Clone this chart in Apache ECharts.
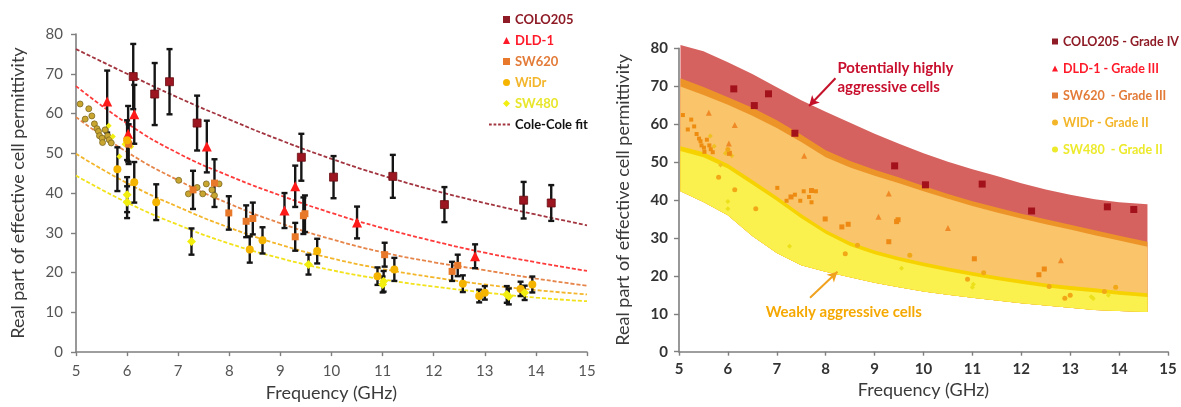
<!DOCTYPE html>
<html><head><meta charset="utf-8">
<script src="https://cdn.jsdelivr.net/npm/echarts@6/dist/echarts.min.js"></script>
<style>html,body{margin:0;padding:0;background:#fff}#c{width:1181px;height:407px}</style>
</head><body><div id="c"></div>
<script>
// ---------- measured points (frequency GHz, permittivity, error half-width) ----------
const coloX = [6.12, 6.54, 6.83, 7.37, 9.41, 10.04, 11.2, 12.21, 13.76, 14.3];
const coloY = [69.3, 64.9, 68.0, 57.6, 49.0, 44.0, 44.2, 37.1, 38.2, 37.5];
const coloErr = [8.2, 7.8, 8.2, 6.9, 5.9, 5.3, 5.4, 4.4, 4.6, 4.5];

const dldX = [5.61, 6.02, 6.14, 7.56, 9.08, 9.29, 10.5, 12.81];
const dldY = [63.0, 54.9, 59.8, 51.7, 35.6, 41.7, 32.6, 24.1];
const dldErr = [7.8, 7.0, 7.4, 6.5, 4.4, 5.2, 4.0, 3.0];

const sw620X = [6.03, 7.29, 7.71, 7.99, 8.33, 8.46, 9.29, 9.45, 9.48, 11.04, 12.36, 12.47];
const sw620Y = [52.3, 40.8, 42.5, 35.0, 32.9, 33.6, 29.0, 34.3, 34.8, 24.5, 20.3, 21.8];
const sw620Err = [5.0, 4.8, 6.0, 4.2, 4.0, 4.0, 3.5, 4.6, 4.6, 3.0, 2.4, 2.7];

const widrX = [5.81, 6.0, 6.14, 6.57, 8.40, 8.65, 9.72, 10.90, 11.23, 12.57, 12.89, 13.0, 13.70, 13.93];
const widrY = [46.0, 53.3, 42.7, 37.7, 25.8, 28.1, 25.4, 19.1, 20.8, 17.2, 14.1, 14.9, 15.9, 17.0];
const widrErr = [5.5, 5.0, 5.1, 4.5, 3.3, 3.3, 3.1, 2.2, 2.9, 2.1, 1.6, 1.7, 1.8, 2.0];

const sw480X = [6.0, 6.0, 7.26, 9.55, 11.02, 11.0, 13.43, 13.47, 13.78];
const sw480Y = [39.6, 37.7, 27.8, 22.0, 17.8, 17.0, 14.5, 14.0, 14.9];
const sw480Err = [4.4, 4.0, 3.3, 2.5, 2.6, 2.0, 2.1, 2.0, 1.8];

// raw points without error bars
const rawX = [5.08, 5.25, 5.18, 5.31, 5.36, 5.41, 5.44, 5.46, 5.51, 5.52, 5.57, 5.62, 5.65, 5.69,
              7.01, 7.20, 7.37, 7.48, 7.55, 7.66, 7.71, 7.80];
const rawY = [62.4, 61.2, 58.6, 59.4, 57.4, 56.2, 55.5, 54.4, 53.8, 52.7, 55.9, 54.4, 53.4, 52.6,
              43.2, 39.8, 41.4, 39.8, 42.3, 40.8, 39.4, 42.3];
const rawYelX = [5.64, 5.72, 5.85, 5.95, 6.08];
const rawYelY = [56.9, 54.2, 49.2, 52.3, 51.7];

// Cole-Cole fit curves (read at each GHz)
const fitX = [5, 6, 7, 8, 9, 10, 11, 12, 13, 14, 15];
const fitColo = [76.2, 70.0, 64.0, 58.5, 53.3, 48.6, 44.4, 40.7, 37.5, 34.6, 31.9];
const fitDld = [66.9, 57.5, 50.0, 44.3, 39.4, 35.0, 31.2, 27.9, 25.0, 22.6, 20.4];
const fitSw620 = [59.1, 50.3, 43.2, 37.3, 32.4, 28.4, 25.1, 22.6, 20.6, 18.5, 16.7];
const fitWidr = [49.9, 42.5, 36.5, 31.3, 27.0, 23.6, 20.9, 18.8, 17.0, 15.6, 14.5];
const fitSw480 = [44.4, 37.6, 32.0, 27.3, 23.6, 20.6, 18.3, 16.5, 15.0, 13.7, 12.8];

// Right panel bands (boundaries)
const bandX = [5.03, 5.5, 6, 6.5, 7, 7.5, 8, 8.5, 9, 9.5, 10, 10.5, 11, 11.5, 12, 12.5, 13, 13.5, 14, 14.58];
const redTop = [80.9, 79.2, 76.3, 73.2, 69.7, 66.3, 63.3, 60.4, 57.5, 54.8, 52.3, 50.1, 48.1, 46.3, 44.4, 42.8, 41.4, 40.2, 39.4, 38.9];
const redBottom = [72.1, 69.8, 67.1, 64.3, 61.0, 57.2, 53.1, 50.3, 48.0, 45.9, 43.7, 41.6, 39.7, 38.0, 36.4, 34.9, 33.5, 32.0, 30.6, 29.0];
const orangeTop = [69.9, 67.7, 65.1, 62.2, 59.0, 55.3, 51.3, 48.6, 46.4, 44.4, 42.3, 40.3, 38.4, 36.7, 35.1, 33.6, 32.2, 30.7, 29.3, 27.7];
const orangeBottom = [54.2, 52.6, 49.5, 45.3, 40.9, 36.3, 32.1, 28.9, 26.7, 25.0, 23.5, 22.2, 21.0, 19.9, 18.9, 18.0, 17.3, 16.7, 16.0, 15.4];
const yellowTop = [52.9, 51.3, 48.3, 44.1, 39.8, 35.2, 31.1, 27.9, 25.7, 24.0, 22.5, 21.2, 20.0, 18.9, 17.9, 17.0, 16.3, 15.7, 15.0, 14.4];
const yellowBottom = [42.3, 39.5, 36.0, 30.5, 26.0, 22.8, 21.1, 19.6, 18.2, 17.0, 15.9, 15.0, 14.2, 13.5, 12.8, 12.2, 11.6, 11.0, 10.7, 10.5];

// ---------- helpers ----------
const zip = (xs, ys) => xs.map((x, i) => [x, ys[i]]);
const errData = (xs, ys, es) => xs.map((x, i) => [x, ys[i] - es[i], ys[i] + es[i]]);

const FONT = 'Lato, "Open Sans", sans-serif';
const allErr = [].concat(
  errData(coloX, coloY, coloErr), errData(dldX, dldY, dldErr), errData(sw620X, sw620Y, sw620Err),
  errData(widrX, widrY, widrErr), errData(sw480X, sw480Y, sw480Err));

const SQUARE = 'path://M0,0h10v10h-10z';
const DASH = 'path://M0,0h3v2h-3z M5,0h3v2h-3z M10,0h3v2h-3z M15,0h3v2h-3z M20,0h3v2h-3z';

function renderErr(params, api) {
  const x = api.value(0), lo = api.value(1), hi = api.value(2);
  const p1 = api.coord([x, hi]), p2 = api.coord([x, lo]);
  const w = 3;
  const style = { stroke: '#151515', lineWidth: 2.4 };
  return { type: 'group', children: [
    { type: 'line', shape: { x1: p1[0], y1: p1[1], x2: p2[0], y2: p2[1] }, style },
    { type: 'line', shape: { x1: p1[0] - w, y1: p1[1], x2: p1[0] + w, y2: p1[1] }, style },
    { type: 'line', shape: { x1: p2[0] - w, y1: p2[1], x2: p2[0] + w, y2: p2[1] }, style }
  ]};
}

// band polygon: from an upper boundary down to the lowest boundary (overlapping fills avoid seams)
function bandSeries(name, upper, color, z) {
  const rows = bandX.map((x, i) => [x, yellowBottom[i], upper[i]]);
  return { name, type: 'custom', xAxisIndex: 1, yAxisIndex: 1, data: rows, silent: true, z,
    encode: { x: 0, y: [1, 2] },
    renderItem: function (params, api) {
      if (params.dataIndex !== 0) return null;
      const pts = [];
      for (let i = 0; i < rows.length; i++) pts.push(api.coord([rows[i][0], rows[i][2]]));
      for (let i = rows.length - 1; i >= 0; i--) pts.push(api.coord([rows[i][0], rows[i][1]]));
      return { type: 'polygon', shape: { points: pts, smooth: 0 }, style: { fill: color } };
    } };
}

function xAxisCfg(gi, bold) {
  return {
    gridIndex: gi, type: 'value', min: 5, max: 15, interval: 1,
    name: 'Frequency (GHz)', nameLocation: 'middle', nameGap: 24,
    nameTextStyle: { fontSize: 18, color: '#3a3a3a', fontFamily: FONT },
    axisLine: { lineStyle: { color: '#7f7f7f', width: 1.6 } },
    axisTick: { show: true, length: 4, lineStyle: { color: '#7f7f7f', width: 1.4 } },
    axisLabel: { fontSize: 15, color: bold ? '#333' : '#555', fontWeight: bold ? 'bold' : 'normal', margin: bold ? 10 : 12, fontFamily: FONT },
    splitLine: { show: false }
  };
}
function yAxisCfg(gi, bold, gap) {
  return {
    gridIndex: gi, type: 'value', min: 0, max: 80, interval: 10,
    name: 'Real part of effective cell permittivity', nameLocation: 'middle', nameGap: gap, nameRotate: 90,
    nameTextStyle: { fontSize: 18, color: '#3a3a3a', fontFamily: FONT },
    axisLine: { show: true, lineStyle: { color: '#7f7f7f', width: 1.6 } },
    axisTick: { show: true, length: 5, lineStyle: { color: '#7f7f7f', width: 1.4 } },
    axisLabel: { fontSize: 15, color: bold ? '#333' : '#555', fontWeight: bold ? 'bold' : 'normal', margin: bold ? 11 : 13, fontFamily: FONT },
    splitLine: { show: false }
  };
}

function fitSeries(vals, color) {
  return { name: 'Cole-Cole fit', type: 'line', xAxisIndex: 0, yAxisIndex: 0, data: zip(fitX, vals),
    smooth: true, symbol: 'none', showSymbol: false, z: 2,
    lineStyle: { color, width: 1.8, type: [4, 2] }, itemStyle: { color } };
}
function leftScatter(name, xs, ys, symbol, size, color, border) {
  return { name, type: 'scatter', xAxisIndex: 0, yAxisIndex: 0, data: zip(xs, ys), symbol, symbolSize: size, z: 5,
    itemStyle: { color, borderColor: border, borderWidth: border ? 0.8 : 0, opacity: 1 } };
}
function rightScatter(name, xs, ys, symbol, size, color) {
  return { name, type: 'scatter', xAxisIndex: 1, yAxisIndex: 1, data: zip(xs, ys), symbol, symbolSize: size, z: 6,
    itemStyle: { color, opacity: 1 } };
}

const chart = echarts.init(document.getElementById('c'), null, { renderer: 'canvas' });

const rightColo = rightScatter('COLO205 - Grade IV', coloX, coloY, 'rect', 7, '#a3111b');
rightColo.markLine = { silent: true, symbol: ['none', 'arrow'], symbolSize: [8, 10], label: { show: false },
  lineStyle: { color: '#c4122a', width: 2, type: 'solid' },
  data: [[{ coord: [8.2, 72.1] }, { coord: [7.66, 64.8] }]] };
const rightSw480 = rightScatter('SW480  - Grade II', sw480X, sw480Y, 'diamond', 5, '#ece01a');
rightSw480.markLine = { silent: true, symbol: ['none', 'arrow'], symbolSize: [8, 10], label: { show: false },
  lineStyle: { color: '#f0a21e', width: 2, type: 'solid' },
  data: [[{ coord: [7.68, 14.2] }, { coord: [8.24, 21.1] }]] };

const option = {
  animation: false,
  backgroundColor: '#fff',
  textStyle: { fontFamily: FONT },
  grid: [
    { left: 76, top: 34, width: 511, height: 318.7 },
    { left: 679, top: 48.3, width: 489, height: 303.4 }
  ],
  xAxis: [xAxisCfg(0, false), xAxisCfg(1, true)],
  yAxis: [yAxisCfg(0, false, 49), yAxisCfg(1, true, 47)],
  legend: [
    { orient: 'vertical', left: 498, top: 8, itemWidth: 7, itemHeight: 7, itemGap: 8,
      textStyle: { fontSize: 13, fontWeight: 'bold', fontFamily: FONT },
      data: [
        { name: 'COLO205', icon: SQUARE, itemStyle: { color: '#8e1b26', borderWidth: 0 }, textStyle: { color: '#8e1b26' } },
        { name: 'DLD-1', icon: 'triangle', itemStyle: { color: '#ff1a2a', borderWidth: 0 }, textStyle: { color: '#ff1a2a' } },
        { name: 'SW620', icon: SQUARE, itemStyle: { color: '#e8782a', borderWidth: 0 }, textStyle: { color: '#e37b38' } },
        { name: 'WiDr', icon: 'circle', itemStyle: { color: '#f5b400', borderWidth: 0 }, textStyle: { color: '#f3b52a' } },
        { name: 'SW480', icon: 'diamond', itemStyle: { color: '#f2ee10', borderWidth: 0 }, textStyle: { color: '#e8e62a' } }
      ] },
    { orient: 'vertical', left: 484, top: 113, itemWidth: 21, itemHeight: 7,
      textStyle: { fontSize: 13, fontWeight: 'bold', color: '#111', fontFamily: FONT },
      data: [{ name: 'Cole-Cole fit', icon: DASH, itemStyle: { color: '#a2353f' } }] },
    { orient: 'vertical', left: 1047, top: 30, itemWidth: 6, itemHeight: 6, itemGap: 14,
      textStyle: { fontSize: 12.5, fontWeight: 'bold', fontFamily: FONT },
      data: [
        { name: 'COLO205 - Grade IV', icon: SQUARE, itemStyle: { color: '#8e1b26' }, textStyle: { color: '#8e1b26' } },
        { name: 'DLD-1 - Grade III', icon: 'triangle', itemStyle: { color: '#ff1a2a' }, textStyle: { color: '#ff1a2a' } },
        { name: 'SW620  - Grade III', icon: SQUARE, itemStyle: { color: '#e37b38' }, textStyle: { color: '#e37b38' } },
        { name: 'WIDr - Grade II', icon: 'circle', itemStyle: { color: '#f3b52a' }, textStyle: { color: '#f3b52a' } },
        { name: 'SW480  - Grade II', icon: 'circle', itemStyle: { color: '#ecea2a' }, textStyle: { color: '#ecea2a' } }
      ] }
  ],
  series: [
    fitSeries(fitColo, '#a2353f'),
    fitSeries(fitDld, '#ff3a3a'),
    fitSeries(fitSw620, '#e6854a'),
    fitSeries(fitWidr, '#f3b62a'),
    fitSeries(fitSw480, '#f1e21a'),
    { name: 'errors', type: 'custom', xAxisIndex: 0, yAxisIndex: 0, data: allErr, renderItem: renderErr,
      encode: { x: 0, y: [1, 2] }, z: 3, silent: true },
    leftScatter('rawA', rawX, rawY, 'circle', 6, '#c9a630', '#7d6a22'),
    leftScatter('rawB', rawYelX, rawYelY, 'diamond', 6, '#f2ee10'),
    leftScatter('COLO205', coloX, coloY, 'rect', 8, '#9b1620', '#6a0c12'),
    leftScatter('DLD-1', dldX, dldY, 'triangle', 10, '#ff1a1a'),
    leftScatter('SW620', sw620X, sw620Y, 'rect', 7, '#e8782a'),
    leftScatter('WiDr', widrX, widrY, 'circle', 8, '#f5b400'),
    leftScatter('SW480', sw480X, sw480Y, 'diamond', 9, '#f2ee10'),

    bandSeries('red', redTop, '#d6625f', 1),
    bandSeries('orangeStripe', redBottom, '#ec9428', 1),
    bandSeries('orange', orangeTop, '#f9c46a', 1),
    bandSeries('yellowStripe', orangeBottom, '#f6d200', 1),
    bandSeries('yellow', yellowTop, '#faf04e', 1),

    rightScatter('raw right', rawX, rawY, 'rect', 4, '#ee8c10'),
    rightScatter('raw right y', rawYelX, rawYelY, 'diamond', 5, '#f0c020'),
    rightColo,
    rightScatter('DLD-1 - Grade III', dldX, dldY, 'triangle', 6, '#f08a26'),
    rightScatter('SW620  - Grade III', sw620X, sw620Y, 'rect', 5, '#ee8a14'),
    rightScatter('WIDr - Grade II', widrX, widrY, 'circle', 5, '#f2a816'),
    rightSw480
  ]
};
chart.setOption(option);

const pA = chart.convertToPixel({ xAxisIndex: 1, yAxisIndex: 1 }, [8.24, 72.2]);
const pB = chart.convertToPixel({ xAxisIndex: 1, yAxisIndex: 1 }, [8.37, 10.5]);
chart.setOption({
  graphic: [
    { type: 'text', x: pA[0], y: pA[1], z: 20,
      style: { text: 'Potentially highly\naggressive cells', fill: '#c8102e', font: 'bold 15px ' + FONT,
        lineHeight: 19, align: 'left', verticalAlign: 'middle' } },
    { type: 'text', x: pB[0], y: pB[1], z: 20,
      style: { text: 'Weakly aggressive cells', fill: '#f5a800', font: 'bold 15px ' + FONT,
        align: 'center', verticalAlign: 'middle' } }
  ]
});
</script>
</body></html>
